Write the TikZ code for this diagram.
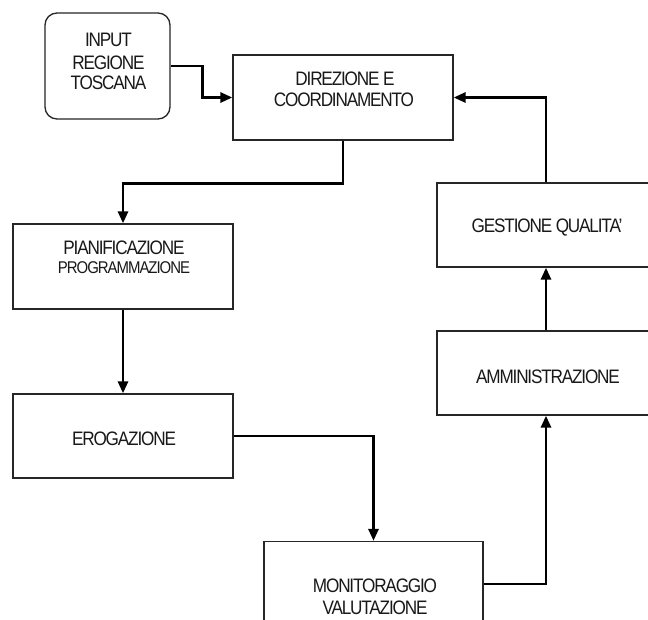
\documentclass[tikz,border=0pt]{standalone}
\usepackage{fontspec}
\setmainfont{Liberation Sans}[FakeStretch=0.88,LetterSpace=-6]
\usetikzlibrary{arrows.meta}
\begin{document}
\begin{tikzpicture}[x=1pt,y=-1pt,
  box/.style={draw=black!85,line width=1.3pt,minimum width=220pt,minimum height=85pt,inner sep=0pt},
  rbox/.style={box,rounded corners=12pt,minimum width=125pt,minimum height=106pt},
  lbl/.style={inner sep=0pt,font=\fontsize{19.5}{22}\selectfont,text=black!90},
  arr/.style={line width=2.8pt,-{Triangle[width=10pt,length=12pt]}}]
\useasboundingbox (0,0) rectangle (648,619);
\clip (0,0) rectangle (648,619);
\fill[white] (0,0) rectangle (648,619);
% boxes
\node[rbox] (in) at (107.5,66) {};
\node[box] (dir) at (343,97.5) {};
\node[box] (pian) at (123,266.5) {};
\node[box,minimum height=84pt] (ero) at (123,436) {};
\node[box,minimum width=219pt] (mon) at (373.5,584) {};
\node[box,minimum width=218pt,minimum height=84pt] (amm) at (546,373) {};
\node[box,minimum width=218pt,minimum height=84pt] (ges) at (546,225) {};
% texts
\node[lbl] (t1) at (108.5,39.5) {INPUT};
\node[lbl] (t2) at (108.5,63) {REGIONE};
\node[lbl] (t3) at (108.5,82.5) {TOSCANA};
\node[lbl] (t4) at (345,79) {DIREZIONE E};
\node[lbl] (t5) at (344,100) {COORDINAMENTO};
\node[lbl] (t6) at (124,247.5) {PIANIFICAZIONE};
\node[lbl,font=\fontsize{17}{20}\selectfont] (t7) at (124,268) {PROGRAMMAZIONE};
\node[lbl] (t8) at (124,439) {EROGAZIONE};
\node[lbl] (t9) at (547,228) {GESTIONE QUALITA’};
\node[lbl] (t10) at (548,377) {AMMINISTRAZIONE};
\node[lbl] (t11) at (375,586) {MONITORAGGIO};
\node[lbl] (t12) at (375,608) {VALUTAZIONE};
% connectors
\draw[arr] (in.east) -- ++(32,0) |- (dir.west);
\draw[arr] (dir.south) -- ++(0,43) -| (pian.north);
\draw[arr] (pian.south) -- (ero.north);
\draw[arr] (ero.east) -| (mon.north);
\draw[arr] (mon.east) -| (amm.south);
\draw[arr] (amm.north) -- (ges.south);
\draw[arr] (ges.north) |- (dir.east);
\end{tikzpicture}
\end{document}
